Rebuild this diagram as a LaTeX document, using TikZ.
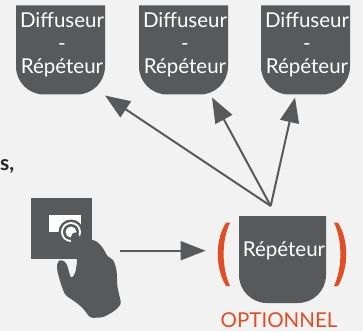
\documentclass[tikz,border=0pt]{standalone}
\usepackage{fontspec}
\setmainfont{Lato}
\usetikzlibrary{arrows.meta}
\definecolor{dark}{HTML}{58595B}
\definecolor{bg}{HTML}{F2F2F2}
\definecolor{orng}{HTML}{E04E26}
\tikzset{
  x=1pt,y=-1pt,
  softbox/.style={minimum width=#1,minimum height=#1,inner sep=0pt,outer sep=0pt,
    path picture={\fill[dark] (path picture bounding box.north west)
      [rounded corners=28pt] -- (path picture bounding box.south west)
      -- (path picture bounding box.south east) [sharp corners]
      -- (path picture bounding box.north east) -- cycle;}},
  boxtext/.style={text=white,font=\fontsize{20.5}{23}\selectfont,align=center,inner sep=0pt},
  link/.style={draw=dark,line width=2pt,-{Triangle[length=25pt,width=19pt]}},
}
\begin{document}
\begin{tikzpicture}
\useasboundingbox (0,0) rectangle (363,331);
\fill[bg] (0,0) rectangle (363,331);
% boxes
\node[softbox=89pt] (d1) at (60.5,50) {};
\node[softbox=89pt] (d2) at (183.5,50) {};
\node[softbox=89pt] (d3) at (305.5,50) {};
\node[boxtext] (t1) at (62,45) {Diffuseur\\-\\Répéteur};
\node[boxtext] (t2) at (185,45) {Diffuseur\\-\\Répéteur};
\node[boxtext] (t3) at (307,45) {Diffuseur\\-\\Répéteur};
\node[softbox=87pt] (rep) at (282.5,259.5) {};
\node[boxtext] (t4) at (284,251) {Répéteur};
% stray text
\node[anchor=base west,inner sep=0pt,text=black!85,font=\fontsize{21}{21}\selectfont\bfseries] (frag) at (0,170) {s,};
\node[anchor=base,inner sep=0pt,text=orng,font=\fontsize{20.5}{21}\selectfont] (opt) at (279,327) {OPTIONNEL};
% brackets
\fill[orng] (226,222.7) .. controls (215,240) and (215,268) .. (226,286) -- (230,286)
  .. controls (221.5,268) and (221.5,240) .. (230,222.7) -- cycle;
\fill[orng] (338,222.7) .. controls (349,240) and (349,268) .. (338,286) -- (334,286)
  .. controls (342.5,268) and (342.5,240) .. (334,222.7) -- cycle;
% connectors
\coordinate (apex) at (270.7,206);
\draw[link] (apex) -- ([yshift=-1pt]d1.south east);
\draw[link] (apex) -- ([xshift=28.5pt,yshift=-3pt]d2.south);
\draw[link] (apex) -- ([xshift=-10.5pt,yshift=-3pt]d3.south);
\coordinate (touch) at (120,250.7);
\draw[link] (touch) -- ([xshift=-33.5pt,yshift=8.8pt]rep.west);
% panel and hand
\node[fill=dark,minimum size=61pt,inner sep=0pt] (panel) at (61.5,228.5) {};
\node[fill=white,minimum width=32pt,minimum height=17pt,inner sep=0pt] (screen) at (65,223.5) {};
\node[circle,fill=dark,minimum size=25pt,inner sep=0pt] (r1) at (71,232) {};
\node[circle,fill=white,minimum size=20pt,inner sep=0pt] (r2) at (71,232) {};
\node[circle,fill=dark,minimum size=16pt,inner sep=0pt] (r3) at (71,232) {};
\node[circle,fill=white,minimum size=11pt,inner sep=0pt] (r4) at (71,232) {};
\begin{scope}[shift={(0,180)},x=0.3333pt,y=-0.3333pt]
\fill[dark,rounded corners=3pt] (222,155) -- (235,160) -- (248,190) -- (280,178) -- (297,190) -- (312,208) -- (322,230)
 -- (340,238) -- (350,270) -- (352,320) -- (364,372) -- (345,392) -- (310,412) -- (270,414) -- (255,392)
 -- (235,372) -- (195,345) -- (182,310) -- (171,270) -- (172,245) -- (185,238) -- (200,250) -- (213,297)
 -- (226,280) -- (232,240) -- (215,200) -- (212,168) -- cycle;
\end{scope}
\end{tikzpicture}
\end{document}
